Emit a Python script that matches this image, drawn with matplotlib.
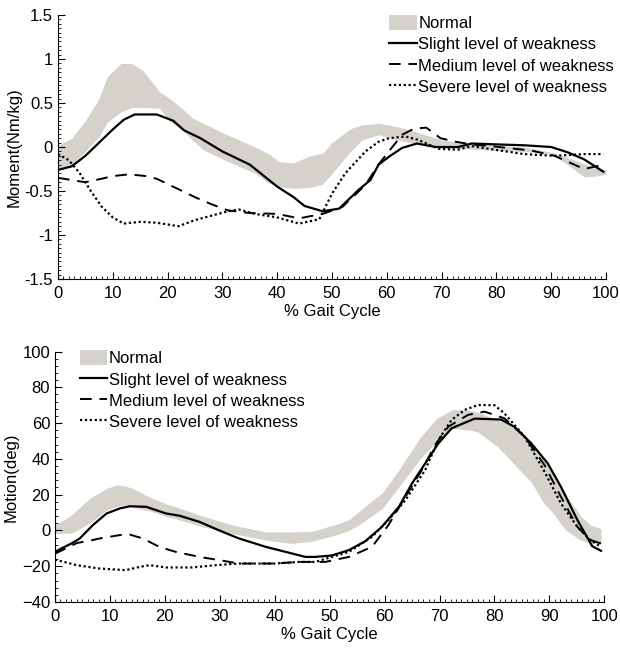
import numpy as np
import matplotlib as mpl
from matplotlib import pyplot as plt
from matplotlib.ticker import MultipleLocator

plt.rcParams['font.family'] = ['Liberation Sans', 'DejaVu Sans']

# ---- Moment (top panel) ----
m_band_x = [0, 2.5, 5, 7.5, 9, 11.5, 13.5, 15.5, 18.5, 20.4, 22.8, 24.5, 26.5, 30.5, 36, 38.5, 40.5, 43, 46, 48.3,
            50, 53.4, 55.5, 58.5, 62, 65, 70, 75, 80, 85, 90, 93, 96, 98, 100]
m_band_hi = [0.02, 0.1, 0.3, 0.55, 0.8, 0.95, 0.95, 0.87, 0.63, 0.55, 0.43, 0.33, 0.27, 0.15, 0.0, -0.08, -0.17, -0.18,
             -0.1, -0.07, 0.05, 0.21, 0.25, 0.27, 0.23, 0.18, 0.08, 0.04, 0.02, 0.0, -0.06, -0.12, -0.19, -0.24, -0.26]
m_band_lo = [-0.25, -0.2, -0.05, 0.12, 0.28, 0.4, 0.45, 0.45, 0.44, 0.29, 0.19, 0.08, -0.03, -0.15, -0.3, -0.41, -0.45, -0.47,
             -0.46, -0.42, -0.3, -0.05, 0.08, 0.14, 0.08, 0.04, -0.01, -0.02, -0.04, -0.05, -0.08, -0.2, -0.34, -0.33, -0.31]

m_x_slight = [0, 2.5, 5, 7.5, 10, 12, 14, 18, 21, 23, 26, 30, 35, 40, 43, 45, 48.3, 51.3, 54.8, 57, 58.5, 60.4,
              62.8, 65.5, 68.9, 73, 75.5, 80, 85, 90, 93, 96, 99.5]
m_slight = [-0.26, -0.22, -0.1, 0.05, 0.2, 0.31, 0.37, 0.37, 0.3, 0.19, 0.1, -0.05, -0.2, -0.45, -0.57, -0.67, -0.73,
            -0.7, -0.49, -0.375, -0.2, -0.11, -0.01, 0.04, 0.0, 0.0, 0.04, 0.03, 0.02, 0.0, -0.06, -0.14, -0.28]

m_x_medium = [0, 3, 5, 8, 10, 13, 16, 18, 22, 25, 28, 31, 35, 40, 44, 48.3, 51.9, 56.1, 58.6, 61, 62.8, 65,
              67.2, 69.8, 72.6, 75.4, 79, 86.4, 90.6, 96, 99.5]
m_medium = [-0.35, -0.38, -0.4, -0.36, -0.33, -0.31, -0.33, -0.36, -0.48, -0.57, -0.65, -0.72, -0.75, -0.76, -0.81,
            -0.76, -0.68, -0.43, -0.19, 0.0, 0.14, 0.21, 0.22, 0.1, 0.06, 0.03, 0.01, -0.04, -0.1, -0.25, -0.2]

m_x_severe = [0, 2, 4, 6, 8, 10, 12, 15, 18, 22, 25, 28, 31, 33, 36, 40, 44, 47.7, 48.8, 50, 52.4, 56.1, 58.5,
              60.4, 63.4, 65.8, 69.4, 73, 75.5, 79.6, 85, 90.6, 96, 99.5]
m_severe = [-0.08, -0.15, -0.3, -0.5, -0.68, -0.8, -0.87, -0.85, -0.86, -0.9, -0.83, -0.78, -0.73, -0.71, -0.76, -0.8,
            -0.87, -0.82, -0.68, -0.53, -0.3, -0.05, 0.06, 0.1, 0.12, 0.08, -0.02, -0.03, 0.01, -0.03, -0.08, -0.1, -0.08, -0.08]

# ---- Motion (bottom panel) ----
k_band_x = [0, 3, 6.3, 9.4, 11.2, 12.6, 14.2, 16.3, 17.2, 20.5, 22, 25, 26.3, 32.3, 38.4, 43.2, 46.8, 51.7, 53.5, 55.3,
            58.3, 59.5, 62.6, 66.5, 69.5, 72.5, 75.8, 77, 80.6, 83.9, 86.7, 89, 90.3, 93, 95.7, 97.5, 99.4]
k_band_hi = [3, 8.6, 17.9, 23.5, 25.4, 25, 23.5, 20, 18.8, 14.5, 13.2, 10, 8.6, 3, -0.8, -0.8, -0.5, 3.9, 6, 10.4,
             18, 20.7, 33.8, 52, 62.7, 67.7, 67, 66, 61.8, 58, 48.7, 40, 33.8, 20, 8, 3, 1]
k_band_lo = [-1.7, -1.5, 3.9, 11.4, 13.5, 14.2, 13, 11.4, 11, 7.6, 6.5, 3.9, 2.5, -1.7, -5.4, -7.3, -6, -2, 0, 3,
             9.5, 12, 24.4, 40, 50, 57, 56, 55, 46.8, 36, 27, 15.1, 11, 0, -5.4, -7.3, -7]

k_x_slight = [0, 1.2, 3, 4.5, 6.9, 9.4, 11.8, 13.6, 16.6, 20.2, 22.7, 26.3, 29.9, 33.5, 38.4, 42, 45.6, 47.4, 50.4,
              53.5, 56.5, 59.5, 62.6, 65, 67.4, 69.8, 72.2, 76.4, 81.2, 83.6, 86.7, 89.7, 92.1, 95.1, 97.8, 99.4]
k_slight = [-12, -10, -7.3, -4.5, 3, 9.5, 12.3, 13.5, 13.2, 9.5, 8.2, 4.8, 0, -4.5, -9.2, -12, -14.8, -14.8, -14,
            -11, -6, 2, 13.2, 26.3, 37.5, 48.7, 57.1, 62.5, 62, 58, 48.7, 37.5, 24.4, 5.8, -8.8, -11.4]

k_x_medium = [0, 2, 4, 6, 8.1, 11.8, 13.6, 16, 19, 22, 26.3, 29.9, 33.5, 40, 44.4, 49.2, 53.5, 57.7, 60.7, 63.8,
              66.8, 69.2, 71.6, 75.2, 78.2, 81.8, 85.5, 89.1, 92.1, 95.1, 97.5, 99.4]
k_medium = [-13, -10, -7, -6, -4.5, -2.6, -2.3, -4.5, -9.2, -12, -14.8, -16.6, -18.5, -18.5, -17.6, -17.6, -14.8,
            -9.2, 3, 18.8, 33.8, 47.8, 58, 64.6, 66.4, 62.7, 52.4, 36.6, 18.8, 2, -5.4, -7.3]

k_x_severe = [0, 3.9, 8.1, 12.9, 15.4, 17.2, 20.2, 25, 29.3, 33.5, 40, 44.4, 47.4, 50.4, 53.5, 57.7, 60.7, 63.8,
              67.4, 69.8, 72.2, 74.6, 77, 80, 81.8, 85.5, 89.1, 92.1, 95.1, 97.5, 99.4]
k_severe = [-16.3, -19.4, -21.3, -22.2, -20.4, -19.4, -20.7, -20.7, -19.4, -18.5, -18.5, -17.6, -17.6, -14.8, -12,
            -3.6, 5.8, 17, 33.8, 50.6, 61.8, 67.4, 70.1, 70, 65.5, 52.4, 32.9, 15.1, 2, -5.4, -9.2]

band_color = '#d5d1cb'
labels = ['Normal', 'Slight level of weakness', 'Medium level of weakness', 'Severe level of weakness']
fs = 12

fig = plt.figure(figsize=(6.2, 6.48), dpi=100)
ax1 = fig.add_axes([0.0935, 0.5694, 0.884, 0.4074])
ax2 = fig.add_axes([0.0887, 0.071, 0.886, 0.3865])


def draw(ax, bx, lo, hi, xs, s, xm, m, xv, v):
    ax.fill_between(bx, lo, hi, color=band_color, linewidth=0, label=labels[0])
    ax.plot(xs, s, color='black', lw=1.6, ls='-', label=labels[1])
    ax.plot(xm, m, color='black', lw=1.4, ls=(0, (6, 4)), label=labels[2])
    ax.plot(xv, v, color='black', lw=1.6, ls=(0, (1, 1.2)), label=labels[3])
    ax.set_xlim(0, 100)
    ax.xaxis.set_major_locator(MultipleLocator(10))
    ax.xaxis.set_minor_locator(MultipleLocator(1))
    ax.spines['top'].set_visible(False)
    ax.spines['right'].set_visible(False)
    ax.tick_params(which='both', direction='in', labelsize=fs, colors='black')
    ax.tick_params(axis='x', which='major', pad=5)
    ax.tick_params(which='major', length=5)
    ax.tick_params(which='minor', length=2.5)
    ax.set_xlabel('% Gait Cycle', fontsize=fs, labelpad=2)
    leg_kw = dict(frameon=False, fontsize=fs, handlelength=1.65, handleheight=1.0,
                  handletextpad=0.1, labelspacing=0.3, borderaxespad=0, borderpad=0)
    return leg_kw


kw = draw(ax1, m_band_x, m_band_lo, m_band_hi, m_x_slight, m_slight, m_x_medium, m_medium, m_x_severe, m_severe)
ax1.set_ylim(-1.5, 1.5)
ax1.yaxis.set_minor_locator(MultipleLocator(0.05))
ax1.set_yticks([-1.5, -1, -0.5, 0, 0.5, 1, 1.5])
ax1.set_yticklabels(['-1.5', '-1', '-0.5', '0', '0.5', '1', '1.5'])
ax1.set_ylabel('Moment(Nm/kg)', fontsize=fs, labelpad=2)
ax1.legend(loc='upper left', bbox_to_anchor=(0.604, 1.0), **kw)

kw = draw(ax2, k_band_x, k_band_lo, k_band_hi, k_x_slight, k_slight, k_x_medium, k_medium, k_x_severe, k_severe)
ax2.set_ylim(-40, 100)
ax2.yaxis.set_major_locator(MultipleLocator(20))
ax2.yaxis.set_minor_locator(MultipleLocator(4))
ax2.set_ylabel('Motion(deg)', fontsize=fs, labelpad=2)
ax2.legend(loc='upper left', bbox_to_anchor=(0.045, 1.005), **kw)

plt.savefig('out.png', dpi=100)
plt.close()
